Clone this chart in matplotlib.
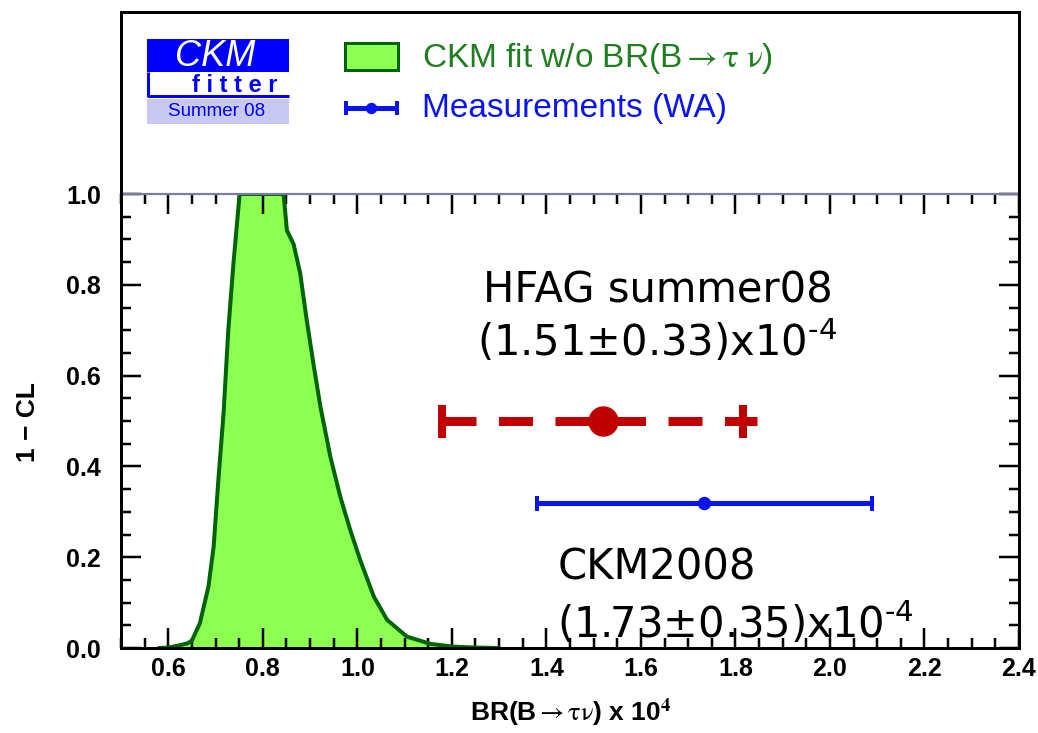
import matplotlib
matplotlib.use("Agg")
import matplotlib.pyplot as plt
import numpy as np
from matplotlib.patches import Rectangle

# ---------------- data ----------------
curve_x = [0.58, 0.60, 0.62, 0.64, 0.65, 0.667, 0.685, 0.696, 0.706, 0.717, 0.727,
           0.738, 0.751, 0.80, 0.844, 0.851, 0.858, 0.865, 0.879, 0.893, 0.907,
           0.922, 0.943, 0.964, 0.985, 1.006, 1.035, 1.063, 1.105, 1.155, 1.203,
           1.25, 1.30]
curve_y = [0.0, 0.001, 0.005, 0.010, 0.016, 0.055, 0.135, 0.223, 0.37, 0.517, 0.70,
           0.848, 1.0, 1.0, 1.0, 0.92, 0.905, 0.89, 0.826, 0.722, 0.627,
           0.531, 0.421, 0.333, 0.26, 0.194, 0.113, 0.062, 0.025, 0.009, 0.003,
           0.001, 0.0]

hfag_center, hfag_lo, hfag_hi, hfag_y = 1.52, 1.18, 1.815, 0.50
ckm_center, ckm_lo, ckm_hi, ckm_y = 1.733, 1.381, 2.09, 0.32

x_major = [0.6, 0.8, 1.0, 1.2, 1.4, 1.6, 1.8, 2.0, 2.2, 2.4]
y_major = [0.0, 0.2, 0.4, 0.6, 0.8, 1.0]

hfag_lines = ["HFAG summer08", r"(1.51±0.33)x10$^{\text{-4}}$"]
ckm_lines = ["CKM2008", r"(1.73±0.35)x10$^{\text{-4}}$"]

# ---------------- style ----------------
W, H = 1038, 733
px = 0.72  # points per pixel at dpi 100
GREEN_FILL = "#8cff50"
GREEN_EDGE = "#006400"
GREEN_TXT = "#1f7f1f"
BLUE = "#0a14f0"
RED = "#c00000"
SANS = ["Liberation Sans", "DejaVu Sans"]

fig = plt.figure(figsize=(W / 100, H / 100), dpi=100)
fig.patch.set_facecolor("white")

L, R, T_top, T_ax, B = 121, 1019, 12, 194, 648
ax = fig.add_axes([L / W, 1 - B / H, (R - L) / W, (B - T_ax) / H])
legax = fig.add_axes([L / W, 1 - T_ax / H, (R - L) / W, (T_ax - T_top) / H])

# ---- main axes ----
ax.fill_between(curve_x, 0, curve_y, color=GREEN_FILL, lw=0, zorder=1)
ax.plot(curve_x, curve_y, color=GREEN_EDGE, lw=4 * px, zorder=2,
        solid_joinstyle="round", solid_capstyle="round")

# red (HFAG) dashed error bar
line_end = hfag_hi + 0.03
ax.plot([hfag_lo, line_end], [hfag_y, hfag_y], color=RED, lw=9 * px,
        dashes=(34 / 9, 22.5 / 9), dash_capstyle="butt", zorder=4)
ax.plot([hfag_lo, hfag_hi], [hfag_y, hfag_y], ls="none", marker="|", ms=33 * px,
        mew=8 * px, color=RED, zorder=4)
ax.plot([hfag_center], [hfag_y], ls="none", marker="o", ms=29 * px, color=RED,
        mec=RED, zorder=5)

# blue (CKM2008) error bar
ax.errorbar([ckm_center], [ckm_y], xerr=[[ckm_center - ckm_lo], [ckm_hi - ckm_center]],
            fmt="o", color=BLUE, ms=12 * px, elinewidth=5 * px, capsize=7.5 * px,
            capthick=4 * px, zorder=5)

ax.set_xlim(0.5, 2.4)
ax.set_ylim(0.0, 1.0)
ax.set_xticks(x_major)
ax.set_xticks(np.arange(0.5, 2.4001, 0.05), minor=True)
ax.set_yticks(y_major)
ax.set_yticks(np.arange(0.0, 1.0001, 0.05), minor=True)
ax.set_xticklabels([f"{v:.1f}" for v in x_major])
ax.set_yticklabels([f"{v:.1f}" for v in y_major])
ax.tick_params(which="both", direction="in", top=True, right=True, color="black",
               width=2.5 * px)
ax.tick_params(which="major", length=20 * px)
ax.tick_params(which="minor", length=10 * px)
ax.tick_params(axis="x", which="major", pad=9 * px)
ax.tick_params(axis="y", which="major", pad=20 * px)
for lab in ax.get_xticklabels() + ax.get_yticklabels():
    lab.set_fontfamily(SANS)
    lab.set_fontweight("bold")
    lab.set_fontsize(18)
for s in ["left", "right", "bottom"]:
    ax.spines[s].set_linewidth(3 * px)
    ax.spines[s].set_color("black")
ax.spines["top"].set_linewidth(2.2 * px)
ax.spines["top"].set_color("#7a7aaa")

# annotations
for i, t in enumerate(hfag_lines):
    ax.text([1.265, 1.254][i], [0.76, 0.643][i], t, fontsize=30, family="DejaVu Sans",
            math_fontfamily="dejavusans", ha="left", va="baseline", color="black", zorder=6)
for i, t in enumerate(ckm_lines):
    ax.text([1.424, 1.422][i], [0.15, 0.022][i], t, fontsize=30, family="DejaVu Sans",
            math_fontfamily="dejavusans", ha="left", va="baseline", color="black",
            zorder=6, clip_on=False)

# axis labels
fig.text(28 / W, 1 - 422 / H, "1 − CL", rotation=90, ha="center", va="center",
         fontsize=19, fontweight="bold", family=SANS)
fig.text(571 / W, 1 - 713 / H, r"BR(B$\rightarrow\mathrm{\tau\nu}$) x 10$^{\mathbf{4}}$",
         ha="center", va="center", fontsize=19, fontweight="bold", family=SANS,
         math_fontfamily="stix")

# ---- top legend panel ----
legax.set_xlim(L, R)
legax.set_ylim(T_ax, T_top)
legax.set_xticks([])
legax.set_yticks([])
legax.patch.set_alpha(0)
for s in ["left", "right", "top"]:
    legax.spines[s].set_linewidth(3 * px)
    legax.spines[s].set_color("black")
legax.spines["bottom"].set_visible(False)

# CKMfitter logo
legax.add_patch(Rectangle((147, 39), 142, 33, facecolor="#0000ff", edgecolor="none"))
legax.text(215, 57, "CKM", color="white", fontsize=26, style="italic", family=SANS,
           ha="center", va="center")
legax.plot([148, 148, 289], [72, 96, 96], color="#0000ff", lw=3 * px,
           solid_capstyle="butt")
legax.text(235, 85, "f i t t e r", color="#0000ff", fontsize=17, fontweight="bold",
           family=SANS, ha="center", va="center")
legax.add_patch(Rectangle((147, 99), 142, 25, facecolor="#c8c8f0", edgecolor="none"))
legax.text(217, 112, "Summer 08", color="#0000ff", fontsize=13.5, family=SANS,
           ha="center", va="center")

# legend entries
legax.add_patch(Rectangle((345, 43), 53, 27, facecolor=GREEN_FILL, edgecolor=GREEN_EDGE,
                          lw=3 * px))
legax.text(422, 58, r"CKM fit w/o BR(B$\rightarrow\mathrm{\tau}\ \mathrm{\nu}$)",
           color=GREEN_TXT, fontsize=24, family=SANS, math_fontfamily="stix",
           ha="left", va="center")
legax.plot([345, 398], [108, 108], color=BLUE, lw=5 * px, solid_capstyle="butt")
legax.plot([346, 397], [108, 108], ls="none", marker="|", ms=14 * px, mew=4 * px, color=BLUE)
legax.plot([371], [108], ls="none", marker="o", ms=10 * px, color=BLUE)
legax.text(422, 108, "Measurements (WA)", color=BLUE, fontsize=24, family=SANS,
           ha="left", va="center")

fig.savefig("out.png", dpi=100)
